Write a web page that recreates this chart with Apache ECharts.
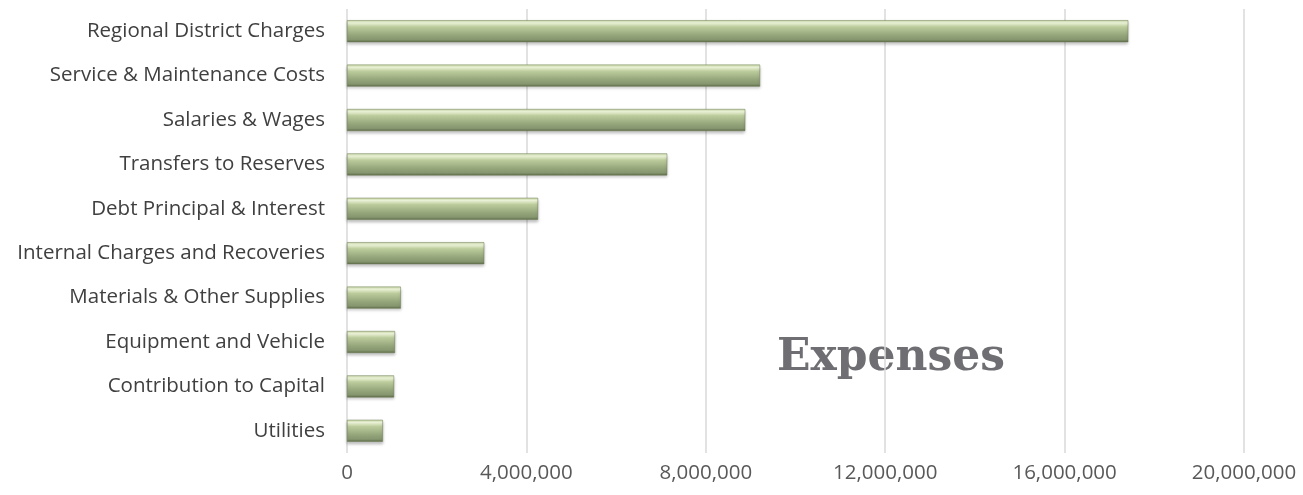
<!DOCTYPE html>
<html>
<head>
<meta charset="utf-8">
<script src="https://cdn.jsdelivr.net/npm/echarts@6/dist/echarts.min.js"></script>
<style>
html,body{margin:0;padding:0;background:#fff;}
#chart{width:1303px;height:495px;}
</style>
</head>
<body>
<div id="chart"></div>
<script>
var categories = ['Utilities','Contribution to Capital','Equipment and Vehicle','Materials & Other Supplies','Internal Charges and Recoveries','Debt Principal & Interest','Transfers to Reserves','Salaries & Wages','Service & Maintenance Costs','Regional District Charges'];
var expenses = [800000,1050000,1070000,1200000,3060000,4260000,7140000,8880000,9210000,17420000];
var chart = echarts.init(document.getElementById('chart'));

var barColor = new echarts.graphic.LinearGradient(0, 0, 0, 1, [
    {offset: 0, color: '#c9d9a6'},
    {offset: 0.12, color: '#f1f8dc'},
    {offset: 0.3, color: '#bccc9c'},
    {offset: 0.7, color: '#93a47a'},
    {offset: 0.88, color: '#869770'},
    {offset: 1, color: '#5e6c47'}
]);

option = {
    animation: false,
    grid: {left: 347, right: 59, top: 9, bottom: 42},
    xAxis: {
        type: 'value',
        min: 0,
        max: 20000000,
        interval: 4000000,
        axisLine: {show: false},
        axisTick: {show: false},
        splitLine: {lineStyle: {color: '#d9d9d9', width: 1.5}},
        axisLabel: {
            color: '#595959',
            fontSize: 20.5,
            fontFamily: 'Open Sans',
            margin: 10,
            formatter: function (v) { return v.toLocaleString('en-US'); }
        }
    },
    yAxis: {
        type: 'category',
        data: categories,
        axisLine: {show: false},
        axisTick: {show: false},
        axisLabel: {
            color: '#404040',
            fontSize: 20.5,
            fontFamily: 'Open Sans',
            margin: 22
        }
    },
    series: [{
        type: 'bar',
        data: expenses,
        barWidth: 22,
        itemStyle: {
            color: barColor,
            borderColor: '#6b7a52',
            borderWidth: 0.5,
            shadowColor: 'rgba(0,0,0,0.25)',
            shadowBlur: 3,
            shadowOffsetY: 2
        }
    }],
    graphic: [{
        type: 'text',
        left: 777,
        top: 337,
        style: {
            text: 'Expenses',
            fill: '#6f6f73',
            font: 'bold 44px "DejaVu Serif"'
        }
    }]
};
chart.setOption(option);
</script>
</body>
</html>
